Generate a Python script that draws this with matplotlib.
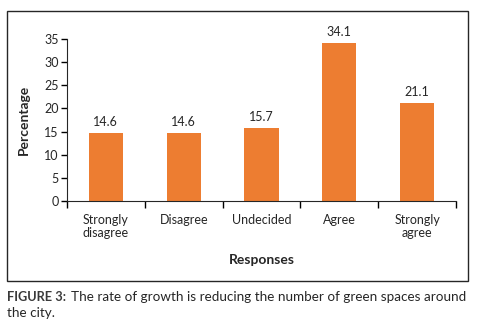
import matplotlib.pyplot as plt
from matplotlib.patches import Rectangle

plt.rcParams['font.family'] = ['Lato', 'DejaVu Sans']

categories = ["Strongly\ndisagree", "Disagree", "Undecided", "Agree", "Strongly\nagree"]
values = [14.6, 14.6, 15.7, 34.1, 21.1]
yticks = [0, 5, 10, 15, 20, 25, 30, 35]

txt = "#262626"

fig = plt.figure(figsize=(4.93, 3.33), dpi=100)
ax = fig.add_axes([67/493, 1-201/333, (456-67)/493, (201-39)/333])

x = list(range(len(values)))
ax.bar(x, values, width=0.44, color="#ED7D31")
for i, v in zip(x, values):
    ax.text(i, v + 1.2, f"{v:.1f}", ha="center", va="bottom", fontsize=9, color=txt)

ax.set_xlim(-0.5, len(values) - 0.5)
ax.set_ylim(0, 35)
ax.set_yticks(yticks)
ax.set_xticks([i - 0.5 for i in range(len(values) + 1)])
ax.set_xticklabels([])
ax.set_xticks(x, minor=True)
ax.set_xticklabels(categories, minor=True, fontsize=9, color=txt, linespacing=1.15)
ax.tick_params(axis='x', which='minor', length=0, pad=9)
ax.tick_params(axis='x', which='major', length=5, width=1, direction='out')
ax.tick_params(axis='y', length=4, width=1, direction='out', labelsize=9, labelcolor=txt, pad=2)
for s in ['top', 'right']:
    ax.spines[s].set_visible(False)
for s in ['left', 'bottom']:
    ax.spines[s].set_color(txt)

fig.text(24/493, 1-120/333, "Percentage", rotation=90, ha="center", va="center",
         fontsize=10, fontweight="bold", color=txt)
fig.text(262/493, 1-260/333, "Responses", ha="center", va="center",
         fontsize=10, fontweight="bold", color=txt)

fig.patches.append(Rectangle((7/493, 1-281/333), 461/493, 270/333, transform=fig.transFigure,
                             fill=False, edgecolor=txt, linewidth=1))

fig.text(7/493, 1-297/333, "FIGURE 3:", ha="left", va="center", fontsize=9.2,
         fontweight="bold", color="#3a3a3a")
fig.text(71/493, 1-297/333, "The rate of growth is reducing the number of green spaces around",
         ha="left", va="center", fontsize=9.7, color=txt)
fig.text(7/493, 1-313/333, "the city.", ha="left", va="center", fontsize=9.7, color=txt)

fig.savefig("out.png", dpi=100)
